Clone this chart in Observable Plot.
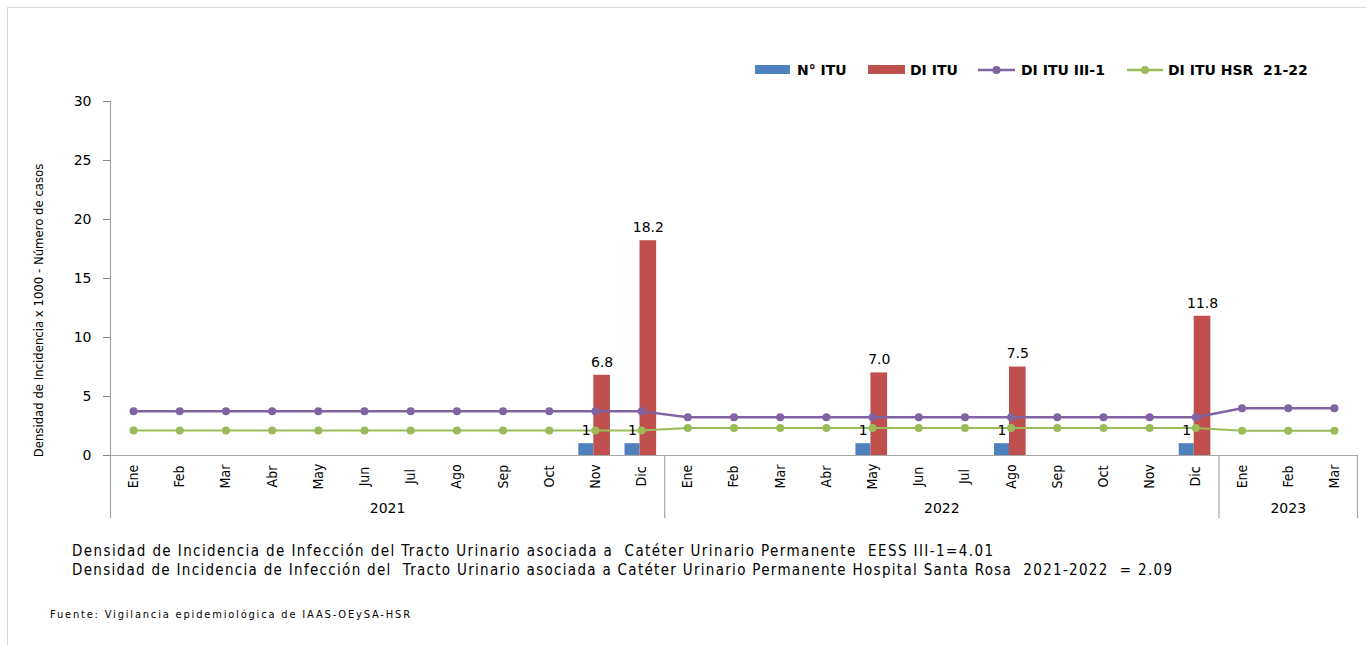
<!DOCTYPE html>
<html>
<head>
<meta charset="utf-8">
<script src="https://cdn.jsdelivr.net/npm/d3@7"></script>
<script src="https://cdn.jsdelivr.net/npm/@observablehq/plot@0.6"></script>
<style>
  html, body { margin: 0; padding: 0; background: #fff; }
  body { width: 1366px; height: 645px; overflow: hidden; position: relative; font-family: "DejaVu Sans", Verdana, sans-serif; }
  #frame { position: absolute; left: 7px; top: 7px; width: 1360px; height: 660px; border: 1px solid #d9d9d9; box-sizing: border-box; }
  #chart { position: absolute; left: 0; top: 0; }
  #legend, #notes { position: absolute; left: 0; top: 0; pointer-events: none; }
</style>
</head>
<body>
<div id="frame"></div>
<div id="chart"></div>
<svg id="legend" width="1366" height="100"></svg>
<svg id="notes" width="1366" height="645"></svg>
<script>
// ---------------- data ----------------
const months = ["Ene","Feb","Mar","Abr","May","Jun","Jul","Ago","Sep","Oct","Nov","Dic",
                "Ene","Feb","Mar","Abr","May","Jun","Jul","Ago","Sep","Oct","Nov","Dic",
                "Ene","Feb","Mar"];
const years = ["2021", "2022", "2023"];
const monthsPerYear = [12, 12, 3];
const nITU = [null,null,null,null,null,null,null,null,null,null,1,1,
              null,null,null,null,1,null,null,1,null,null,null,1,
              null,null,null];
const diITU = [null,null,null,null,null,null,null,null,null,null,6.8,18.2,
               null,null,null,null,7.0,null,null,7.5,null,null,null,11.8,
               null,null,null];
const diIII1 = [3.74,3.74,3.74,3.74,3.74,3.74,3.74,3.74,3.74,3.74,3.74,3.74,
                3.24,3.24,3.24,3.24,3.24,3.24,3.24,3.24,3.24,3.24,3.24,3.24,
                4.01,4.01,4.01];
const diHSR = [2.11,2.11,2.11,2.11,2.11,2.11,2.11,2.11,2.11,2.11,2.11,2.11,
               2.34,2.34,2.34,2.34,2.34,2.34,2.34,2.34,2.34,2.34,2.34,2.34,
               2.09,2.09,2.09];
const yTicks = [0, 5, 10, 15, 20, 25, 30];
const yTitle = "Densidad de Incidencia x 1000 - Número de casos";
const seriesNames = ["N° ITU", "DI ITU", "DI ITU III-1", "DI ITU HSR  21-22"];
const notes = [
  "Densidad de Incidencia de Infección del Tracto Urinario asociada a  Catéter Urinario Permanente  EESS III-1=4.01",
  "Densidad de Incidencia de Infección del  Tracto Urinario asociada a Catéter Urinario Permanente Hospital Santa Rosa  2021-2022  = 2.09"
];
const source = "Fuente: Vigilancia epidemiológica de IAAS-OEySA-HSR";

// ---------------- styles ----------------
const C = { blue: "#4F81BD", red: "#C0504D", purple: "#8064A2", green: "#9BBB59", axis: "#a6a6a6" };
const narrow = "'Liberation Sans Narrow', 'DejaVu Sans Condensed', 'Arial Narrow', sans-serif";

const rows = months.map((m, i) => ({ i, month: m, n: nITU[i], di: diITU[i], iii: diIII1[i], hsr: diHSR[i] }));
let acc = 0;
const yearGroups = years.map((y, k) => { const s = acc; acc += monthsPerYear[k]; return { year: y, start: s, end: acc }; });
const dividers = [0, ...yearGroups.map(g => g.end)];

const W = 1366, H = 530, mT = 101, mB = 75, mL = 110, mR = 9;
const pxPerUnit = (H - mT - mB) / 30;
const belowAxis = -63 / pxPerUnit; // depth of category-axis dividers below zero

const chart = Plot.plot({
  width: W, height: H,
  marginTop: mT, marginBottom: mB, marginLeft: mL, marginRight: mR,
  style: { fontFamily: "'DejaVu Sans', Verdana, sans-serif", fontSize: "14px", background: "transparent", color: "#000" },
  x: { domain: [0, months.length], axis: null },
  y: { domain: [0, 30], axis: null },
  marks: [
    // bars
    Plot.rectY(rows.filter(d => d.n != null), { x1: d => d.i + 0.14, x2: d => d.i + 0.465, y: "n", fill: C.blue }),
    Plot.rectY(rows.filter(d => d.di != null), { x1: d => d.i + 0.465, x2: d => d.i + 0.825, y: "di", fill: C.red }),
    // axes
    Plot.ruleY([0], { stroke: C.axis, strokeWidth: 1 }),
    Plot.ruleX(dividers, { y1: belowAxis, y2: d => d === 0 ? 30 : 0, stroke: C.axis, strokeWidth: 1.2, clip: false }),
    Plot.axisY({ ticks: yTicks, tickSize: 7, tickPadding: 12, stroke: "#868686", fontSize: 14, tickFormat: d => d }),
    Plot.text(rows, { x: d => d.i + 0.5, y: 0, dy: 21, text: "month", rotate: -90, fontFamily: narrow, fontSize: 14, fill: "#000" }),
    Plot.text(yearGroups, { x: d => (d.start + d.end) / 2, y: 0, dy: 53, text: "year", fontSize: 14, fill: "#000" }),
    Plot.text([yTitle], { frameAnchor: "left", textAnchor: "middle", dx: -72, dy: 32, rotate: -90, fontFamily: narrow, fontSize: 13, fill: "#000" }),
    // lines
    Plot.line(rows, { x: d => d.i + 0.5, y: "iii", stroke: C.purple, strokeWidth: 2.5 }),
    Plot.dot(rows, { x: d => d.i + 0.5, y: "iii", r: 4, fill: C.purple, stroke: null }),
    Plot.line(rows, { x: d => d.i + 0.5, y: "hsr", stroke: C.green, strokeWidth: 2 }),
    Plot.dot(rows, { x: d => d.i + 0.5, y: "hsr", r: 4, fill: C.green, stroke: null }),
    // labels
    Plot.text(rows.filter(d => d.di != null), { x: d => d.i + 0.645, y: "di", dy: -13, text: d => d.di.toFixed(1), fontSize: 14, fill: "#000" }),
    Plot.text(rows.filter(d => d.n != null), { x: d => d.i + 0.3, y: "n", dy: -13, text: d => String(d.n), fontSize: 14, fill: "#000" })
  ]
});
document.getElementById("chart").appendChild(chart);

// ---------------- legend ----------------
const svgNS = "http://www.w3.org/2000/svg";
function el(parent, tag, attrs, text) {
  const e = document.createElementNS(svgNS, tag);
  for (const k in attrs) e.setAttribute(k, attrs[k]);
  if (text != null) e.textContent = text;
  parent.appendChild(e);
  return e;
}
const leg = document.getElementById("legend");
const legItems = [
  { kind: "rect", color: C.blue, x0: 755, x1: 790, tx: 797 },
  { kind: "rect", color: C.red, x0: 868, x1: 905, tx: 910 },
  { kind: "line", color: C.purple, x0: 978, x1: 1015, tx: 1021 },
  { kind: "line", color: C.green, x0: 1127, x1: 1163, tx: 1168 }
];
legItems.forEach((it, k) => {
  if (it.kind === "rect") {
    el(leg, "rect", { x: it.x0, y: 65, width: it.x1 - it.x0, height: 9, fill: it.color });
  } else {
    el(leg, "line", { x1: it.x0, x2: it.x1, y1: 70, y2: 70, stroke: it.color, "stroke-width": 2.5 });
    el(leg, "circle", { cx: (it.x0 + it.x1) / 2, cy: 70, r: 4, fill: it.color });
  }
  el(leg, "text", { x: it.tx, y: 75, "font-family": "'DejaVu Sans', Verdana, sans-serif", "font-size": 14, "font-weight": "bold", fill: "#000", "xml:space": "preserve", style: "white-space:pre" }, seriesNames[k]);
});

// ---------------- notes ----------------
const nt = document.getElementById("notes");
el(nt, "text", { x: 72, y: 556, "font-family": narrow, "font-size": 15, fill: "#000", textLength: 921, lengthAdjust: "spacing", style: "white-space:pre" }, notes[0]);
el(nt, "text", { x: 72, y: 575, "font-family": narrow, "font-size": 15, fill: "#000", textLength: 1100, lengthAdjust: "spacing", style: "white-space:pre" }, notes[1]);
el(nt, "text", { x: 50, y: 618, "font-family": narrow, "font-size": 11, fill: "#000", textLength: 360, lengthAdjust: "spacing" }, source);
</script>
</body>
</html>
